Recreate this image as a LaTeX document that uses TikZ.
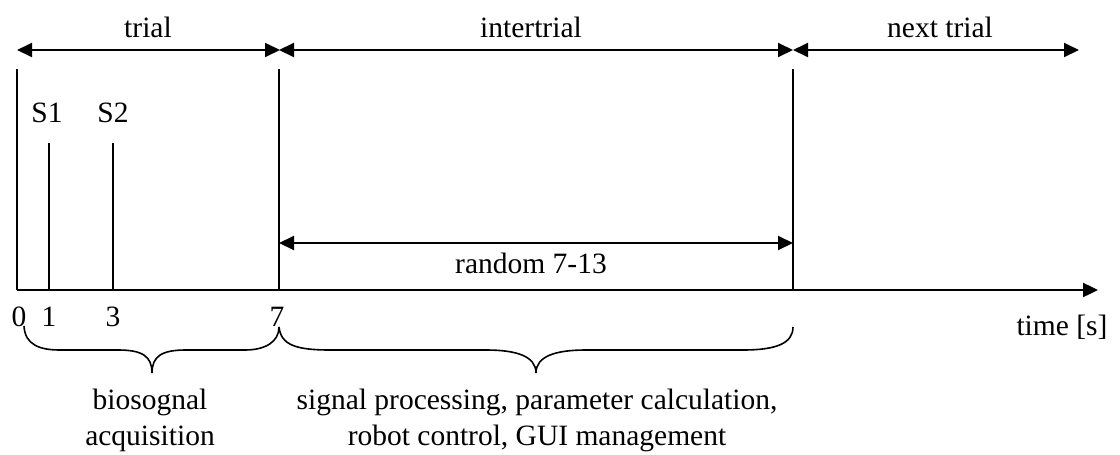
\documentclass[tikz,border=0pt]{standalone}
\usepackage{fontspec}
\setmainfont{Liberation Serif}
\usetikzlibrary{arrows.meta}
\begin{document}
\begin{tikzpicture}[x=1pt,y=-1pt,
  lbl/.style={inner sep=0pt,font=\fontsize{29.5}{36}\selectfont},
  vline/.style={line width=1.6pt},
  dimarrow/.style={line width=2pt,{Triangle[length=15pt,width=14pt]}-{Triangle[length=15pt,width=14pt]}},
  axisarrow/.style={line width=2.4pt,-{Triangle[length=15pt,width=14pt]}},
  bracepath/.style={line width=1.6pt}]
\useasboundingbox (0,0) rectangle (1120,455);
% coordinates
\coordinate (t0) at (17,290);
\coordinate (t0top) at (17,69);
\coordinate (t1) at (49,290);
\coordinate (t1top) at (49,143);
\coordinate (t3) at (113,290);
\coordinate (t3top) at (113,143);
\coordinate (t7) at (279,290);
\coordinate (t7top) at (279,69);
\coordinate (tE) at (793,290);
\coordinate (tEtop) at (793,69);
\coordinate (axend) at (1098,290);
\coordinate (a0) at (17,50);
\coordinate (a7) at (279,50);
\coordinate (aE) at (793,50);
\coordinate (aN) at (1079,50);
\coordinate (r7) at (279,243);
\coordinate (rE) at (793,243);
% verticals
\draw[vline] (t0) -- (t0top);
\draw[vline] (t1) -- (t1top);
\draw[vline] (t3) -- (t3top);
\draw[vline] (t7) -- (t7top);
\draw[vline] (tE) -- (tEtop);
% axis
\draw[axisarrow] (t0) -- (axend);
% top arrows
\draw[dimarrow,shorten >=-1pt] (a0) -- (a7);
\draw[dimarrow] (a7) -- (aE);
\draw[dimarrow] (aE) -- (aN);
\draw[dimarrow] (r7) -- (rE);
% labels
\node[lbl] (ltrial) at (148,27) {trial};
\node[lbl] (linter) at (531,27) {intertrial};
\node[lbl] (lnext) at (940,27) {next trial};
\node[lbl] (lS1) at (47,113) {S1};
\node[lbl] (lS2) at (113,113) {S2};
\node[lbl] (lrand) at (531,263) {random 7-13};
\node[lbl] (n0) at (19,317) {0};
\node[lbl] (n1) at (49,317) {1};
\node[lbl] (n3) at (113,317) {3};
\node[lbl] (n7) at (277,317) {7};
\node[lbl] (ltime) at (1062,327) {time [s]};
% braces
\draw[bracepath] (24,326) .. controls (25,345) and (40,350) .. (60,350)
  -- (118,350) .. controls (142,350) and (152,356) .. (152,373)
  .. controls (152,356) and (162,350) .. (186,350)
  -- (245,350) .. controls (265,350) and (279,342) .. (279,327);
\draw[bracepath] (279,327) .. controls (281,345) and (296,350) .. (330,350)
  -- (486,350) .. controls (516,350) and (536,356) .. (536,373)
  .. controls (536,356) and (556,350) .. (586,350)
  -- (743,350) .. controls (777,350) and (793,343) .. (793,327);
\node[lbl,align=center] (lbio) at (150,420) {biosognal\\acquisition};
\node[lbl,align=center] (lproc) at (537,420) {signal processing, parameter calculation,\\robot control, GUI management};
\end{tikzpicture}
\end{document}
